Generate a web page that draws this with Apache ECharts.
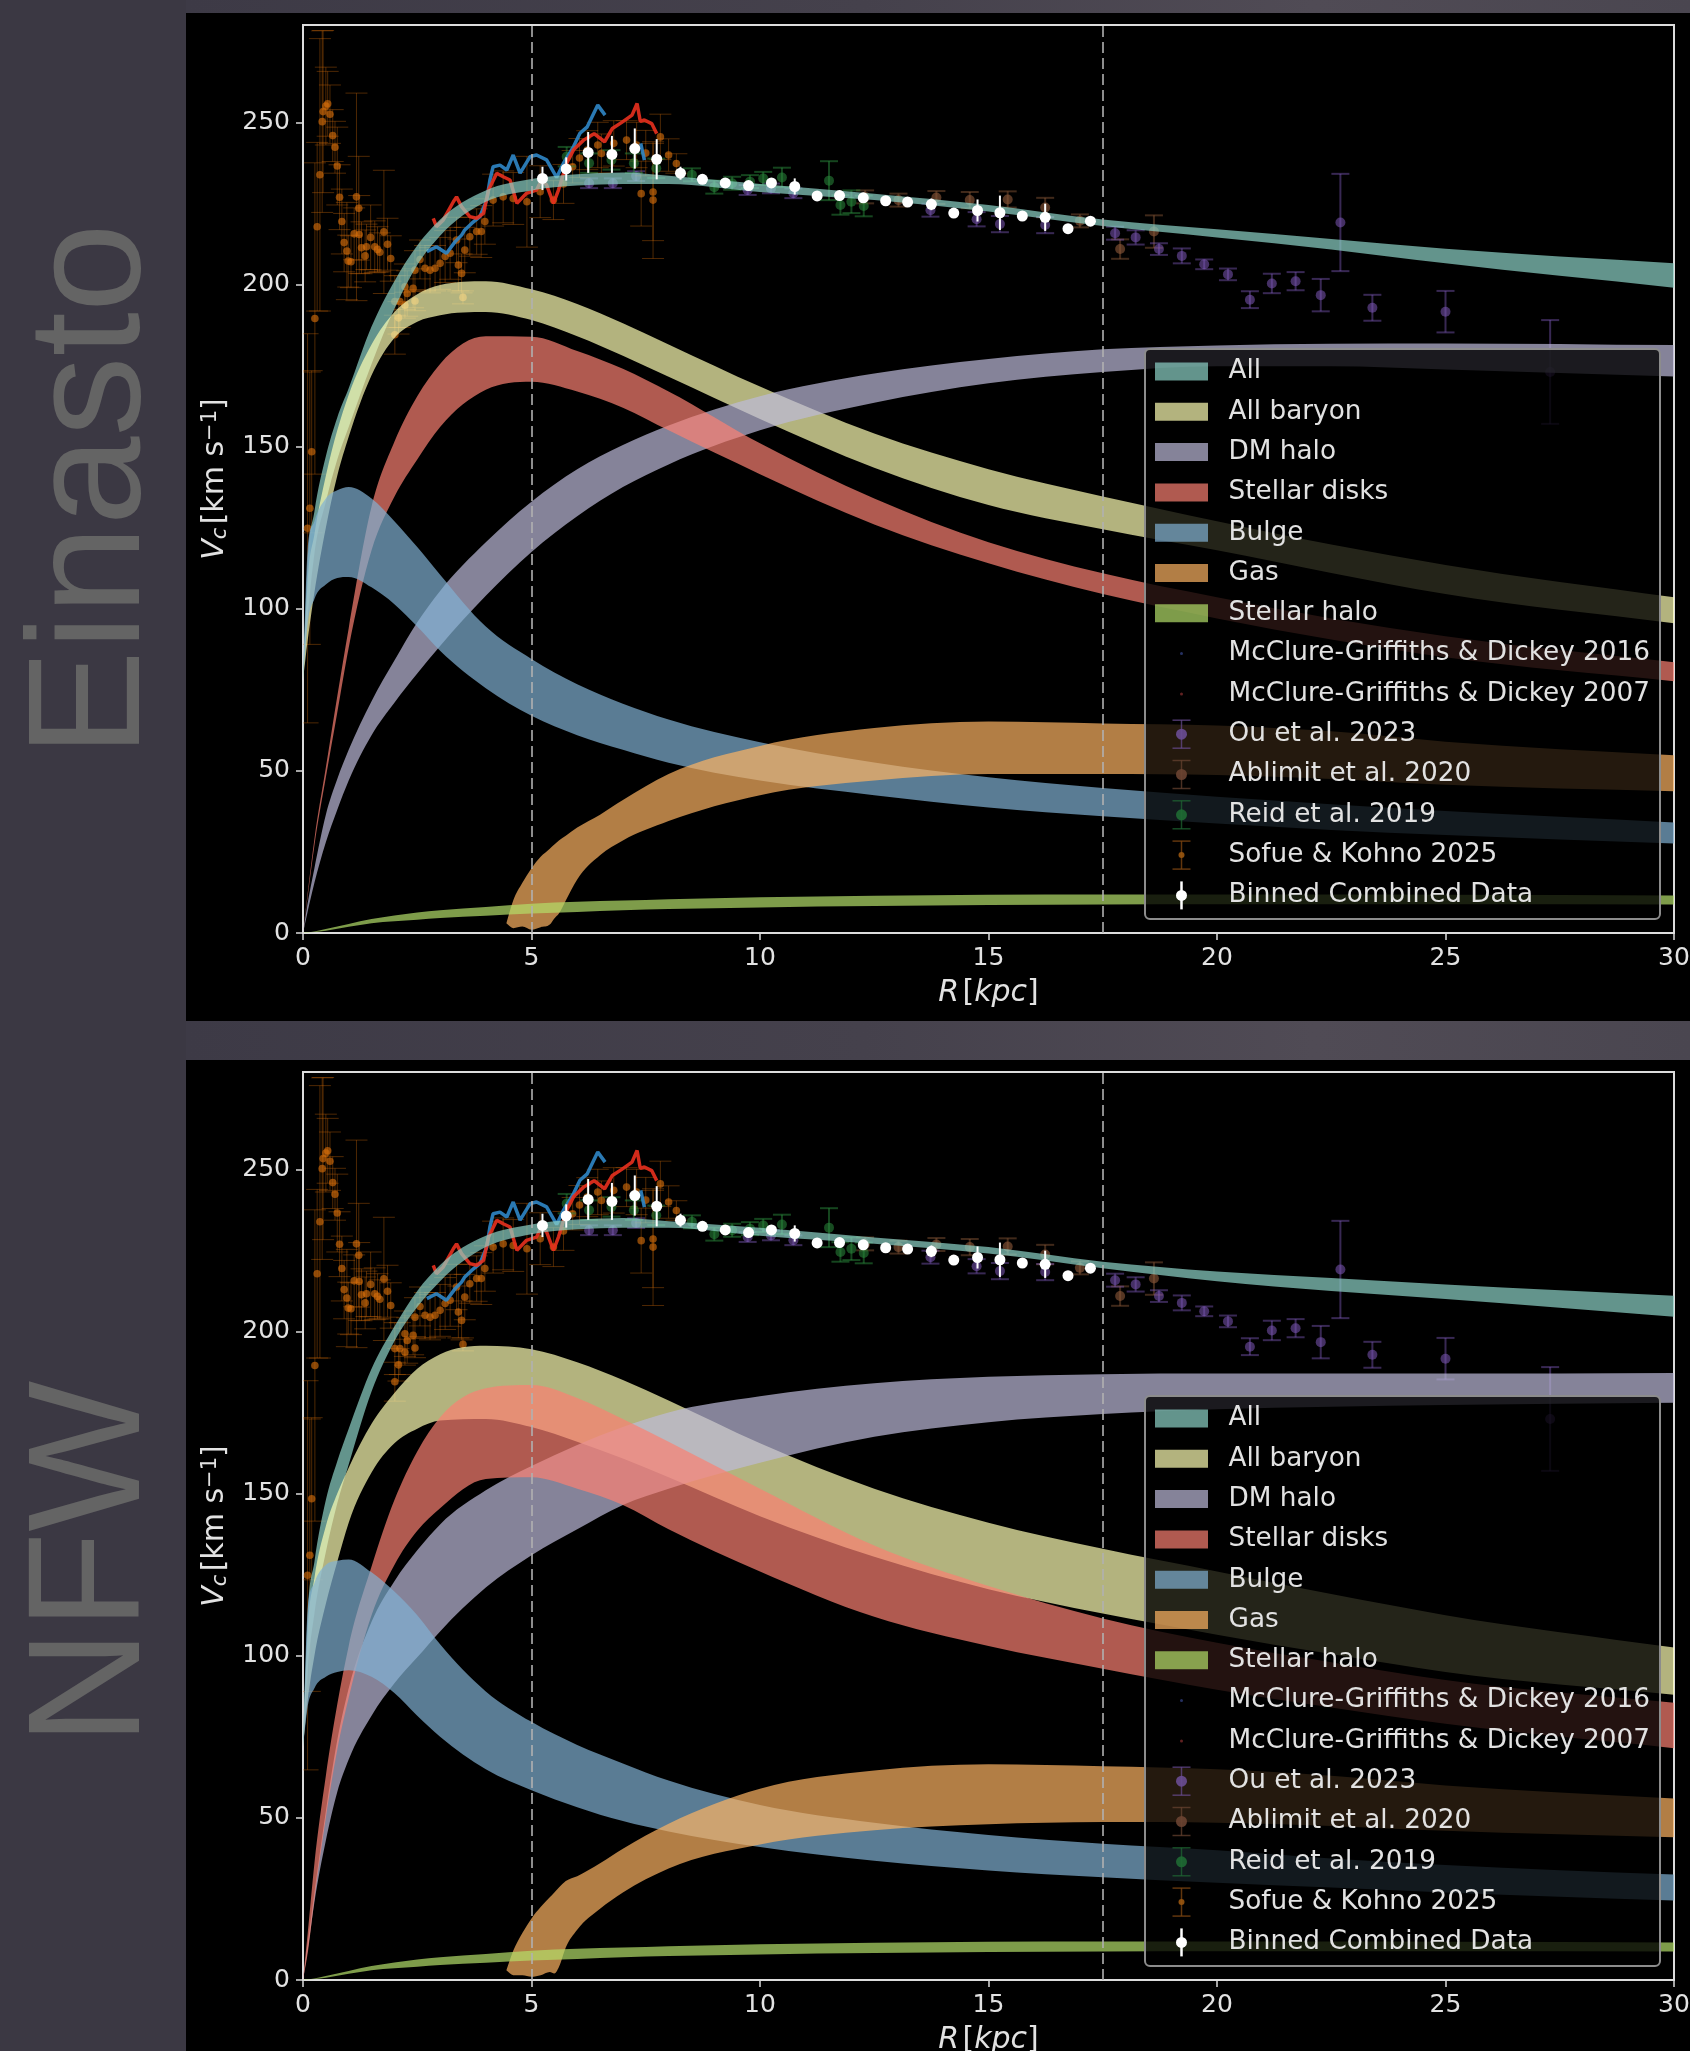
<!DOCTYPE html>
<html>
<head>
<meta charset="utf-8">
<title>Rotation curves</title>
<script src="https://cdn.jsdelivr.net/npm/echarts@6/dist/echarts.min.js"></script>
<style>
html, body { margin: 0; padding: 0; background: #3b3843; }
#chart { width: 1690px; height: 2051px; }
</style>
</head>
<body>
<div id="chart"></div>
<script>
// radius nodes the model bands were read at
const rCurve = [0, 0.1, 0.25, 0.5, 0.75, 1, 1.5, 2, 2.5, 3, 4, 5, 6, 7, 8, 10, 12.5, 15, 17.5, 20, 22.5, 25, 30];
const rGas = [4.45, 4.6, 4.8, 5, 5.2, 5.4, 5.5, 5.6, 5.75, 6, 6.5, 7, 8, 10, 12.5, 15, 17.5, 20, 22.5, 25, 30];

const xTicks = [0, 5, 10, 15, 20, 25, 30];
const yTicks = [0, 50, 100, 150, 200, 250];
const rDashed = [5, 17.5];

// Einasto panel
const einAllHi = [78, 114, 130, 147, 159, 168, 187, 201, 212, 220, 229, 232.5, 234, 234.5, 233.5, 231, 228, 224.5, 220, 217, 214, 211, 206.5];
const einAllLo = [78, 97, 117, 133, 146, 156, 175.5, 192.5, 206, 215, 225.5, 229, 230.5, 231, 231, 228.5, 226, 222.5, 218, 214.5, 210.8, 206.5, 199];
const einBarHi = [78, 108, 123, 141, 155, 166, 181.5, 191.5, 197, 199.8, 201, 198.5, 194, 188, 181.5, 168.5, 154, 143, 134.6, 127, 119.8, 113.5, 103.5];
const einBarLo = [78, 90, 105, 125, 141, 153, 172, 183.5, 188.5, 190.5, 191.5, 189, 184, 178, 171.5, 158.5, 143.5, 132, 124.5, 118, 111, 104.5, 95.5];
const einDmHi = [0, 9, 20, 36.5, 47.5, 56.5, 71.5, 84, 95.8, 105.5, 120.5, 133, 143, 150.5, 156.5, 165.5, 172.5, 177, 180, 181.2, 181.7, 181.8, 181.3];
const einDmLo = [0, 6.5, 15.5, 28, 38, 47, 61, 71, 80, 88.5, 104, 117.5, 128.5, 137.5, 144.5, 155, 163.5, 169.5, 173, 174.8, 174.8, 173.8, 171.6];
const einDiskHi = [0, 12, 29, 51, 73, 94, 131.5, 151.5, 165.5, 175.5, 184, 183.9, 179.5, 174, 167, 151, 134, 120.5, 110.9, 103.5, 97, 91.5, 83.5];
const einDiskLo = [0, 11, 27, 48, 68, 88, 118, 134.5, 146, 156, 167.5, 170, 167, 162, 155, 141.5, 126, 114, 104.5, 97, 90.5, 85, 77.6];
const einBulgeHi = [78, 118, 127, 134, 136.5, 137.5, 134, 127, 119, 110.5, 94.5, 84.5, 76.7, 70.7, 65.8, 58.8, 52.6, 48, 44.7, 42, 39.7, 37.6, 34.1];
const einBulgeLo = [78, 95, 103, 107.5, 109.5, 109.8, 106.6, 101.4, 94.5, 87, 75.5, 67, 61, 56.5, 52.5, 47, 42.5, 38.7, 36, 33.8, 31.8, 30.2, 27.6];
const einGasHi = [3, 10, 15.5, 20, 23.5, 26, 27.3, 28.5, 30, 32.5, 36.5, 41, 49, 57.7, 63.2, 65.2, 64.6, 64, 62.2, 59, 54.8];
const einGasLo = [3, 1.5, 2, 1, 1.8, 2.6, 4.5, 6, 10, 16.5, 24, 28.5, 34.5, 42.5, 47, 49, 49, 48.7, 47.5, 45.7, 43.7];

// NFW panel
const nfwAllHi = [72, 112, 129, 148, 160, 170, 188.5, 201.5, 212.5, 220.5, 229.5, 233, 234.5, 235, 234, 232, 229, 226, 221.5, 218.5, 216.5, 214.5, 211];
const nfwAllLo = [72, 95, 113, 132, 147, 159, 181.5, 197, 207.5, 215.5, 226, 230, 231.5, 232, 232, 229.5, 227, 224, 219.5, 215.5, 212.5, 210, 204.5];
const nfwBarHi = [72, 107, 124, 140, 150, 158, 171.5, 181, 188.5, 193, 195.6, 194.5, 190.5, 185, 178.7, 165.5, 151.5, 141, 133, 126, 119, 112.5, 102.5];
const nfwBarLo = [72, 86, 100, 116, 129, 141, 156.5, 165.5, 170, 172.5, 173, 170.5, 166, 160.8, 155, 143, 130.5, 120.5, 113, 106.5, 100.5, 95, 88];
const nfwDmHi = [0, 11, 27, 52, 74, 90, 110.5, 123, 132.5, 140.5, 151, 158.5, 165, 170.5, 175, 180, 184, 186, 186.8, 187, 187, 187, 187.2];
const nfwDmLo = [0, 9, 24, 43, 58, 68, 81.5, 91.5, 99.5, 107.5, 121, 131, 139, 146.5, 151.5, 159.5, 167.5, 172, 174.5, 176, 176.8, 177.3, 178];
const nfwDiskHi = [0, 14, 36, 63, 85, 103, 127.5, 148, 163, 173.5, 182.5, 183.5, 179.5, 173, 166, 151.5, 134, 121.5, 111.5, 104, 98, 92.5, 85.5];
const nfwDiskLo = [0, 8, 25, 50, 71, 87, 112.5, 128, 138.5, 145.5, 154.5, 155, 151.5, 146.5, 139, 126, 112, 103, 96, 89.5, 84, 79, 71.5];
const nfwBulgeHi = [72, 113.8, 122.4, 128, 129.3, 129.7, 125.7, 119.8, 112.5, 103.5, 89, 79.6, 72.5, 66.8, 61.5, 54, 48.5, 44.7, 42, 40, 37.5, 35.5, 32.5];
const nfwBulgeLo = [72, 84, 90, 93.5, 95, 95.5, 93.5, 88.5, 81.5, 75, 65, 58.5, 53.3, 49, 45.8, 41, 36.8, 33.8, 31.7, 30, 28.5, 27, 24.5];
const nfwGasHi = [3, 9, 14.5, 19, 22.5, 25.5, 27, 28.5, 30.5, 32, 36, 40.5, 48.2, 59, 64.6, 66.5, 65.9, 65, 63, 60, 56];
const nfwGasLo = [3, 1.5, 1.5, 1, 1.5, 2.5, 2, 4, 10, 15.5, 22, 27, 34.4, 41.8, 46.2, 48, 48.7, 48.5, 47.5, 46, 44];

// stellar halo looks the same in both panels
const haloHi = [0, 0.2, 0.5, 1.2, 2, 2.8, 4.3, 5.4, 6.3, 7, 8, 9, 9.6, 10, 10.4, 11, 11.5, 11.8, 11.9, 11.9, 11.9, 11.8, 11.6];
const haloLo = [0, 0.1, 0.3, 0.7, 1.3, 1.9, 3, 3.6, 4.1, 4.6, 5.3, 6, 6.5, 7, 7.4, 7.9, 8.3, 8.6, 8.8, 8.9, 8.9, 8.9, 8.8];

// observations, [R, V, err]
const sofue = [
  [0.1, 124.8, 60], [0.15, 131, 42], [0.19, 148.4, 25], [0.26, 189.5, 48], [0.31, 217.8, 26], [0.37, 233.8, 42],
  [0.42, 250.2, 28], [0.44, 253.3, 25], [0.5, 255, 12], [0.54, 255.7, 10], [0.59, 252.5, 9], [0.65, 245.9, 8],
  [0.7, 242.3, 8], [0.75, 236.5, 12], [0.8, 226.9, 10], [0.85, 219.4, 10], [0.9, 212.9, 9], [0.96, 210.3, 15],
  [0.99, 207.2, 8], [1.05, 207, 8], [1.12, 215.6, 8], [1.17, 227, 32], [1.22, 223.5, 16], [1.23, 215.4, 12],
  [1.28, 211.3, 8], [1.36, 208.8, 8], [1.39, 211.6, 7], [1.48, 214.5, 10], [1.57, 211.6, 8], [1.63, 210.8, 7],
  [1.68, 209.9, 6], [1.77, 216.2, 19], [1.85, 212.4, 8], [1.92, 208, 7], [2.01, 194.7, 8], [2.01, 184.5, 6],
  [2.09, 189.7, 5], [2.12, 194.7, 8], [2.23, 199.3, 7], [2.23, 193.6, 4], [2.28, 197.2, 7], [2.41, 198.8, 6],
  [2.45, 204.4, 6], [2.45, 194.9, 3], [2.56, 207.7, 6], [2.67, 205, 7], [2.78, 204.4, 7], [2.89, 205, 7],
  [3, 206.5, 8], [3.11, 208.6, 8], [3.22, 209.6, 8], [3.36, 213.7, 7], [3.4, 206, 8], [3.47, 203.4, 6],
  [3.5, 196, 2], [3.54, 210.6, 7], [3.65, 214.7, 6], [3.8, 216.3, 7], [3.9, 216.3, 8], [3.98, 219.4, 7],
  [4.16, 226, 8], [4.38, 227, 8], [4.6, 226.5, 8], [4.9, 225.5, 14], [5.19, 228.6, 8], [5.48, 226, 6],
  [5.7, 231, 6], [5.9, 236.3, 5], [6.05, 239, 6], [6.22, 241.4, 6], [6.45, 243, 7], [6.53, 240.4, 6],
  [6.8, 243.5, 7], [7.08, 244.5, 6], [7.3, 243, 7], [7.4, 228, 10], [7.5, 240.5, 7], [7.66, 228.5, 15],
  [7.66, 226, 18], [7.82, 245.5, 7], [8, 239.9, 5], [8.17, 237.3, 3]
];
const ou = [
  [6.26, 231.2, 1.5], [6.78, 231.2, 1.5], [7.29, 233.4, 1.5], [9.73, 229.1, 1.5], [10.24, 229.6, 1.5], [10.73, 228.1, 1.5],
  [13.73, 222.9, 2], [14.74, 220.1, 2.2], [15.25, 218.6, 2.5], [16.24, 218.3, 2.5], [17.77, 215.8, 2], [18.22, 214.5, 2.2],
  [18.73, 210.9, 1.8], [19.23, 208.8, 2.3], [19.72, 206.2, 1.5], [20.24, 203.1, 1.8], [20.72, 195.3, 2.6], [21.2, 200.3, 3],
  [21.72, 201, 2.8], [22.27, 196.7, 5], [22.7, 219.1, 15], [23.4, 192.8, 4], [25, 191.6, 6.4], [27.29, 173, 16]
];
const ablimit = [
  [12.3, 227, 2], [13.03, 226, 2], [13.86, 226.8, 2], [14.59, 226, 2.5], [15.42, 226.2, 2.5], [16.24, 223.7, 3],
  [17, 219.6, 2], [17.88, 210.9, 3], [18.62, 216.3, 5]
];
const reid = [
  [5.77, 239.4, 3], [6.26, 237.4, 3], [6.75, 238.4, 3], [7.24, 237.4, 3], [7.73, 235.8, 3], [8.51, 233.8, 2],
  [9, 230, 2], [9.39, 231.2, 2], [9.78, 231.7, 2], [10.07, 232.7, 2], [10.48, 233, 3], [11.51, 232, 6],
  [11.76, 224.5, 3], [12, 225.5, 3.5], [12.27, 224.2, 3.2]
];
const mg2016 = [
  [2.71, 210.1], [2.92, 211.6], [3.14, 209.6], [3.33, 213.2], [3.47, 215.2], [3.54, 216.8], [3.69, 218.8], [3.87, 220.9],
  [4.02, 226], [4.09, 232.2], [4.16, 236.3], [4.31, 236.8], [4.46, 235.3], [4.6, 239.9], [4.75, 234.3], [4.97, 239.4],
  [5.11, 239.9], [5.33, 238.4], [5.55, 233], [5.7, 237.4], [5.92, 242.5], [6.06, 246.6], [6.22, 248.6], [6.45, 255.3],
  [6.61, 252.2], [null, null], [7.39, 243.5], [7.47, 238.3]
];
const mg2007 = [
  [2.85, 220.4], [2.92, 217.8], [3.07, 219.9], [3.29, 225.5], [3.36, 227], [3.47, 224], [3.65, 220.9], [3.8, 220.4],
  [3.95, 221.9], [4.06, 229.1], [4.24, 234.3], [4.38, 233.2], [4.53, 232.2], [4.68, 225], [4.89, 228.1], [5.11, 229.1],
  [5.22, 232.2], [5.33, 230.7], [5.48, 225], [5.59, 229.1], [5.77, 237.4], [5.92, 241.5], [6.14, 244.5], [6.37, 246.5],
  [6.6, 244], [6.77, 248.1], [7, 250.2], [7.2, 252.2], [7.31, 255.8], [7.38, 250.3], [7.47, 250.7], [7.63, 249.6], [7.74, 246.5]
];
const binned = [
  [5.24, 232.7, 3.6], [5.76, 235.6, 3.6], [6.24, 240.7, 6.3], [6.76, 240.1, 5.7], [7.26, 241.9, 6.2], [7.74, 238.6, 6.2],
  [8.26, 234.3, 2], [8.74, 232.4, 1], [9.24, 231.3, 0.8], [9.75, 230.5, 0.8], [10.25, 231.3, 0.8], [10.76, 230.2, 2.5],
  [11.25, 227.3, 0.5], [11.74, 227.4, 1.5], [12.26, 226.7, 0.8], [12.75, 225.8, 0.5], [13.23, 225.4, 0.5], [13.75, 224.7, 1.8],
  [14.24, 222, 0.5], [14.76, 222.8, 3.4], [15.25, 222.1, 5.3], [15.74, 221.1, 0.5], [16.24, 220.7, 4.2], [16.74, 217.2, 0.5], [17.23, 219.5, 0.5]
];

const legendNames = ['All', 'All baryon', 'DM halo', 'Stellar disks', 'Bulge', 'Gas', 'Stellar halo',
  'McClure-Griffiths & Dickey 2016', 'McClure-Griffiths & Dickey 2007', 'Ou et al. 2023', 'Ablimit et al. 2020',
  'Reid et al. 2019', 'Sofue & Kohno 2025', 'Binned Combined Data'];

// Set3 colours, alpha 0.7 in the bands
const bandColors = ['#8dd3c7', '#ffffb3', '#bebada', '#fb8072', '#80b1d3', '#fdb462', '#b3de69'];

const panels = [
  { top: 25, height: 908, title: 'Einasto', titleY: 490, legendTop: 349,
    lo: [einAllLo, einBarLo, einDmLo, einDiskLo, einBulgeLo, einGasLo, haloLo],
    hi: [einAllHi, einBarHi, einDmHi, einDiskHi, einBulgeHi, einGasHi, haloHi] },
  { top: 1072, height: 908, title: 'NFW', titleY: 1563, legendTop: 1396,
    lo: [nfwAllLo, nfwBarLo, nfwDmLo, nfwDiskLo, nfwBulgeLo, nfwGasLo, haloLo],
    hi: [nfwAllHi, nfwBarHi, nfwDmHi, nfwDiskHi, nfwBulgeHi, nfwGasHi, haloHi] }
];

const textColor = '#e2e2e2';
const fontFamily = '"DejaVu Sans", sans-serif';

// smooth cubic through pixel points, slopes limited so it cannot overshoot much
function segments(pts) {
  const n = pts.length, h = [], d = [], m = [], out = [];
  for (let i = 0; i < n - 1; i++) {
    h.push(Math.max(pts[i + 1][0] - pts[i][0], 1e-6));
    d.push((pts[i + 1][1] - pts[i][1]) / h[i]);
  }
  for (let i = 0; i < n; i++) {
    if (i === 0) m.push(d[0]);
    else if (i === n - 1) m.push(d[n - 2]);
    else if (d[i - 1] * d[i] <= 0) m.push(0);
    else {
      const a = (h[i] * d[i - 1] + h[i - 1] * d[i]) / (h[i - 1] + h[i]);
      const lim = 3 * Math.min(Math.abs(d[i - 1]), Math.abs(d[i]));
      m.push(Math.sign(a) * Math.min(Math.abs(a), lim));
    }
  }
  for (let i = 0; i < n - 1; i++) {
    const t = h[i] / 3;
    out.push([pts[i][0] + t, pts[i][1] + m[i] * t, pts[i + 1][0] - t, pts[i + 1][1] - m[i + 1] * t, pts[i + 1][0], pts[i + 1][1]]);
  }
  return out;
}

function bandPath(xs, lo, hi, api) {
  const top = xs.map((x, i) => api.coord([x, hi[i]]));
  const bot = xs.map((x, i) => api.coord([x, lo[i]]));
  let d = 'M' + top[0][0] + ' ' + top[0][1];
  segments(top).forEach(s => { d += 'C' + s.join(' '); });
  d += 'L' + bot[bot.length - 1][0] + ' ' + bot[bot.length - 1][1];
  const segsBot = segments(bot);
  for (let i = segsBot.length - 1; i >= 0; i--) {
    const s = segsBot[i];
    d += 'C' + s[2] + ' ' + s[3] + ' ' + s[0] + ' ' + s[1] + ' ' + bot[i][0] + ' ' + bot[i][1];
  }
  return d + 'Z';
}

function bandSeries(p, k) {
  const xs = k === 5 ? rGas : rCurve;
  const lo = panels[p].lo[k], hi = panels[p].hi[k];
  return {
    type: 'custom', name: legendNames[k], xAxisIndex: p, yAxisIndex: p, z: 3, silent: true,
    clip: true,
    data: xs.map((x, i) => [x, lo[i], hi[i]]),
    encode: { x: 0, y: [1, 2] },
    renderItem(params, api) {
      if (params.dataIndex > 0) return null;
      return { type: 'path', shape: { pathData: bandPath(xs, lo, hi, api) }, style: { fill: bandColors[k], opacity: 0.7 } };
    }
  };
}

function errorSeries(p, rows, opts) {
  const color = opts.color;
  return {
    type: 'custom', xAxisIndex: p, yAxisIndex: p, z: opts.z || 2, silent: true, clip: true,
    data: rows,
    encode: { x: 0, y: [1, 2] },
    renderItem(params, api) {
      const c = api.coord([api.value(0), api.value(1)]);
      const up = api.coord([api.value(0), api.value(1) + api.value(2)]);
      const dn = api.coord([api.value(0), api.value(1) - api.value(2)]);
      const line = { stroke: color, lineWidth: opts.lw, opacity: opts.lineAlpha };
      const kids = [{ type: 'line', shape: { x1: c[0], y1: up[1], x2: c[0], y2: dn[1] }, style: line }];
      if (opts.cap) {
        kids.push({ type: 'line', shape: { x1: c[0] - opts.cap, y1: up[1], x2: c[0] + opts.cap, y2: up[1] }, style: line });
        kids.push({ type: 'line', shape: { x1: c[0] - opts.cap, y1: dn[1], x2: c[0] + opts.cap, y2: dn[1] }, style: line });
      }
      kids.push({ type: 'circle', shape: { cx: c[0], cy: c[1], r: opts.r }, style: { fill: color, opacity: opts.dotAlpha } });
      return { type: 'group', children: kids };
    }
  };
}

const obsStyles = {
  sofue: { color: '#d9700c', lw: 1, lineAlpha: 0.36, cap: 11, r: 3.8, dotAlpha: 0.62 },
  ou: { color: '#7d58b8', lw: 2, lineAlpha: 0.45, cap: 9, r: 5, dotAlpha: 0.55 },
  ablimit: { color: '#8f5a3a', lw: 2, lineAlpha: 0.45, cap: 9, r: 5, dotAlpha: 0.6 },
  reid: { color: '#2a8a3c', lw: 2, lineAlpha: 0.5, cap: 9, r: 5, dotAlpha: 0.55 },
  binned: { color: '#ffffff', lw: 2, lineAlpha: 1, cap: 0, r: 5.5, dotAlpha: 1, z: 6 }
};

function panelSeries(p) {
  const list = [];
  list.push(errorSeries(p, ablimit, obsStyles.ablimit));
  list.push(errorSeries(p, ou, obsStyles.ou));
  list.push(errorSeries(p, sofue, obsStyles.sofue));
  list.push({ type: 'line', xAxisIndex: p, yAxisIndex: p, z: 2, data: mg2016, showSymbol: false, silent: true,
    lineStyle: { color: '#2f86c6', width: 3.5, opacity: 0.9 }, connectNulls: false });
  list.push({ type: 'line', xAxisIndex: p, yAxisIndex: p, z: 2, data: mg2007, showSymbol: false, silent: true,
    lineStyle: { color: '#e8301e', width: 3.5, opacity: 0.9 } });
  list.push(errorSeries(p, reid, obsStyles.reid));
  bandColors.forEach((c, k) => list.push(bandSeries(p, k)));
  list.push({
    type: 'line', xAxisIndex: p, yAxisIndex: p, z: 4, data: [], silent: true,
    markLine: {
      silent: true, symbol: 'none', animation: false, label: { show: false },
      lineStyle: { color: '#b0b0b0', width: 2, type: [11, 5], opacity: 0.8 },
      data: rDashed.map(r => ({ xAxis: r }))
    }
  });
  list.push(errorSeries(p, binned, obsStyles.binned));
  return list;
}

function legendGraphic(top) {
  const els = [{
    type: 'rect', z: 20, shape: { x: 1145, y: top, width: 515, height: 570, r: 5 },
    style: { fill: 'rgba(0,0,0,0.8)', stroke: '#8c8c8c', lineWidth: 2 }
  }];
  const rowY = i => top + 22.5 + i * 40.3;
  legendNames.forEach((name, i) => {
    els.push({ type: 'text', z: 21, x: 1228.5, y: rowY(i),
      style: { text: name, fill: textColor, font: '26.3px ' + fontFamily, verticalAlign: 'middle' } });
    if (i < 7) {
      els.push({ type: 'rect', z: 21, shape: { x: 1155, y: rowY(i) - 9, width: 53, height: 18 },
        style: { fill: bandColors[i], opacity: 0.7 } });
    }
  });
  const cx = 1181.5;
  const dot = (i, r, color, a) => els.push({ type: 'circle', z: 21, shape: { cx: cx, cy: rowY(i), r: r }, style: { fill: color, opacity: a } });
  const bar = (i, color, a, cap, lw) => {
    const y = rowY(i);
    els.push({ type: 'line', z: 21, shape: { x1: cx, y1: y - 14, x2: cx, y2: y + 14 }, style: { stroke: color, lineWidth: lw, opacity: a } });
    if (cap) {
      els.push({ type: 'line', z: 21, shape: { x1: cx - cap, y1: y - 14, x2: cx + cap, y2: y - 14 }, style: { stroke: color, lineWidth: lw, opacity: a } });
      els.push({ type: 'line', z: 21, shape: { x1: cx - cap, y1: y + 14, x2: cx + cap, y2: y + 14 }, style: { stroke: color, lineWidth: lw, opacity: a } });
    }
  };
  dot(7, 1.5, '#2f3d7a', 0.8);
  dot(8, 1.5, '#7a2a2a', 0.8);
  bar(9, '#6a4c93', 0.7, 9, 1.5); dot(9, 5.5, '#6a4c93', 0.9);
  bar(10, '#6b4432', 0.7, 9, 1.5); dot(10, 5.5, '#6b4432', 0.9);
  bar(11, '#1f6a33', 0.7, 9, 1.5); dot(11, 5.5, '#1f6a33', 0.9);
  bar(12, '#7a4410', 0.8, 9, 1.5); dot(12, 3, '#9a5610', 0.9);
  bar(13, '#ffffff', 1, 0, 2.5); dot(13, 5.5, '#ffffff', 1);
  return els;
}

const stripFill = {
  type: 'linear', x: 0, y: 0, x2: 1, y2: 0,
  colorStops: [{ offset: 0, color: '#3d3a46' }, { offset: 0.45, color: '#45414c' }, { offset: 0.75, color: '#504b55' }, { offset: 1, color: '#4a4650' }]
};

const graphics = [];
// lighter strips above and between the figure panels, black panels on top
graphics.push({ type: 'rect', z: -11, shape: { x: 186, y: 0, width: 1504, height: 14 }, style: { fill: stripFill } });
graphics.push({ type: 'rect', z: -11, shape: { x: 186, y: 1021, width: 1504, height: 39 }, style: { fill: stripFill } });
graphics.push({ type: 'rect', z: -10, shape: { x: 186, y: 13, width: 1504, height: 1008 }, style: { fill: '#000' } });
graphics.push({ type: 'rect', z: -10, shape: { x: 186, y: 1060, width: 1504, height: 991 }, style: { fill: '#000' } });
panels.forEach(pn => {
  graphics.push({
    type: 'text', z: 1, x: 95, y: pn.titleY, rotation: Math.PI / 2,
    style: { text: pn.title, fill: '#646464', font: '160px "Liberation Sans", sans-serif', align: 'center', verticalAlign: 'middle' }
  });
  legendGraphic(pn.legendTop).forEach(e => graphics.push(e));
});

const richName = {
  i: { fontStyle: 'italic', fontSize: 30, color: textColor, fontFamily },
  n: { fontSize: 30, color: textColor, fontFamily },
  sub: { fontStyle: 'italic', fontSize: 21, color: textColor, fontFamily, verticalAlign: 'bottom', padding: [10, 0, 0, 0] },
  sup: { fontSize: 21, color: textColor, fontFamily, verticalAlign: 'top', padding: [0, 0, 10, 0] }
};

const chart = echarts.init(document.getElementById('chart'), null, { renderer: 'canvas' });
chart.setOption({
  animation: false,
  backgroundColor: '#3b3843',
  grid: panels.map(pn => ({
    left: 303, width: 1371, top: pn.top, height: pn.height, show: true,
    borderColor: '#dcdcdc', borderWidth: 2, backgroundColor: 'transparent',
    containLabel: false, outerBoundsMode: 'none'
  })),
  xAxis: panels.map((pn, i) => ({
    type: 'value', gridIndex: i, min: 0, max: 30, splitLine: { show: false },
    name: '{i|R} {n|[}{i|kpc}{n|]}', nameLocation: 'middle', nameGap: 45,
    nameTextStyle: { rich: richName },
    axisLine: { show: false },
    axisTick: { show: true, length: 7, customValues: xTicks, lineStyle: { color: '#dcdcdc', width: 1.5 } },
    axisLabel: { customValues: xTicks, color: textColor, fontSize: 25, fontFamily, margin: 13 }
  })),
  yAxis: panels.map((pn, i) => ({
    type: 'value', gridIndex: i, min: 0, max: 280, splitLine: { show: false },
    name: '{i|V}{sub|c} {n|[km s}{sup|−1}{n|]}', nameLocation: 'middle', nameGap: 72, nameRotate: 90,
    nameTextStyle: { rich: richName },
    axisLine: { show: false },
    axisTick: { show: true, length: 7, customValues: yTicks, lineStyle: { color: '#dcdcdc', width: 1.5 } },
    axisLabel: { customValues: yTicks, color: textColor, fontSize: 25, fontFamily, margin: 13, padding: [3, 0, 0, 0] }
  })),
  graphic: { elements: graphics },
  series: panels.reduce((acc, pn, i) => acc.concat(panelSeries(i)), [])
});
</script>
</body>
</html>
